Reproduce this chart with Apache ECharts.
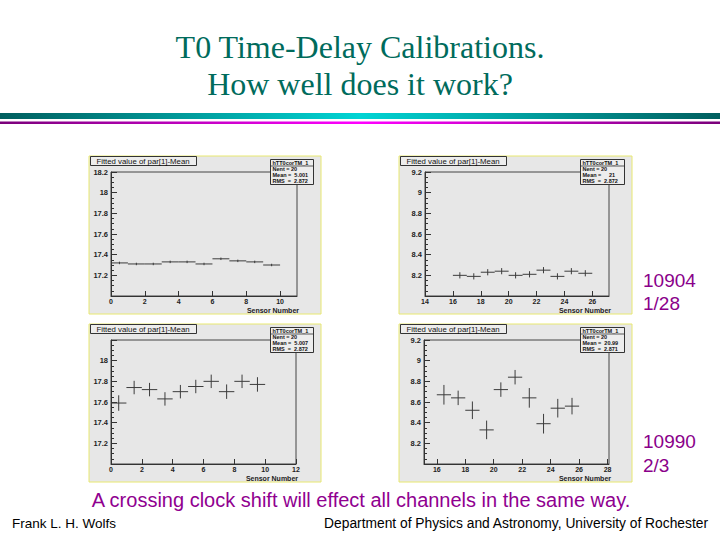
<!DOCTYPE html>
<html><head><meta charset="utf-8">
<script src="https://cdn.jsdelivr.net/npm/echarts@6/dist/echarts.min.js"></script>
<style>html,body{margin:0;padding:0;background:#fff}#c{width:720px;height:540px}</style>
</head><body><div id="c"></div>
<script>
// ---- data ----
const sensorsLow  = [0.5, 1.5, 2.5, 3.5, 4.5, 5.5, 6.5, 7.5, 8.5, 9.5];
const sensorsHigh = [16.5, 17.5, 18.5, 19.5, 20.5, 21.5, 22.5, 23.5, 24.5, 25.5];
const binWidth = 1;

const run10904LowMean  = [17.32, 17.31, 17.31, 17.33, 17.33, 17.31, 17.36, 17.34, 17.33, 17.30];
const run10904LowErr   = [0.012, 0.012, 0.012, 0.012, 0.012, 0.012, 0.012, 0.012, 0.012, 0.012];
const run10904HighMean = [8.20, 8.19, 8.23, 8.24, 8.20, 8.21, 8.25, 8.19, 8.24, 8.22];
const run10904HighErr  = [0.03, 0.03, 0.03, 0.03, 0.03, 0.03, 0.03, 0.03, 0.03, 0.03];
const run10990LowMean  = [17.59, 17.74, 17.72, 17.63, 17.70, 17.75, 17.80, 17.70, 17.80, 17.77];
const run10990LowErr   = [0.075, 0.065, 0.065, 0.065, 0.065, 0.065, 0.065, 0.07, 0.065, 0.07];
const run10990HighMean = [8.67, 8.64, 8.52, 8.33, 8.72, 8.84, 8.64, 8.39, 8.54, 8.56];
const run10990HighErr  = [0.095, 0.07, 0.085, 0.09, 0.07, 0.07, 0.095, 0.095, 0.09, 0.08];

const xTicksP1 = [0, 2, 4, 6, 8, 10];
const xTicksP2 = [14, 16, 18, 20, 22, 24, 26];
const xTicksP3 = [0, 2, 4, 6, 8, 10, 12];
const xTicksP4 = [16, 18, 20, 22, 24, 26, 28];
const yLabelsP1 = [17.2, 17.4, 17.6, 17.8, 18.0, 18.2];
const yLabelsP2 = [8.2, 8.4, 8.6, 8.8, 9.0, 9.2];
const yLabelsP3 = [17.2, 17.4, 17.6, 17.8, 18.0];
const yLabelsP4 = [8.2, 8.4, 8.6, 8.8, 9.0, 9.2];

const statsP1 = ['hTT0corTM_1', 'Nent = 20', 'Mean =  5.001', 'RMS  =  2.872'];
const statsP2 = ['hTT0corTM_1', 'Nent = 20', 'Mean =     21', 'RMS  =  2.872'];
const statsP3 = ['hTT0corTM_1', 'Nent = 20', 'Mean =  5.007', 'RMS  =  2.872'];
const statsP4 = ['hTT0corTM_1', 'Nent = 20', 'Mean =  20.99', 'RMS  =  2.871'];

const histTitle = 'Fitted value of par[1]-Mean';
const xName = 'Sensor Number';

// ---- layout ----
const panels = [
  {cx: 89,  cy: 156, cw: 232, ch: 158, grid: {left: 111, top: 172, width: 186, height: 124},
   xMin: 0, xMax: 11, xTicks: xTicksP1, yMin: 17.0, yMax: 18.2, yLabels: yLabelsP1,
   xs: sensorsLow, ys: run10904LowMean, es: run10904LowErr, stats: statsP1},
  {cx: 399, cy: 156, cw: 233, ch: 158, grid: {left: 425, top: 172, width: 184, height: 124},
   xMin: 14, xMax: 27.2, xTicks: xTicksP2, yMin: 8.0, yMax: 9.2, yLabels: yLabelsP2,
   xs: sensorsHigh, ys: run10904HighMean, es: run10904HighErr, stats: statsP2},
  {cx: 89,  cy: 324, cw: 232, ch: 158, grid: {left: 111, top: 340, width: 185, height: 124},
   xMin: 0, xMax: 12, xTicks: xTicksP3, yMin: 17.0, yMax: 18.2, yLabels: yLabelsP3,
   xs: sensorsLow, ys: run10990LowMean, es: run10990LowErr, stats: statsP3},
  {cx: 399, cy: 324, cw: 233, ch: 158, grid: {left: 424, top: 340, width: 185, height: 124},
   xMin: 15.1, xMax: 28.1, xTicks: xTicksP4, yMin: 8.0, yMax: 9.2, yLabels: yLabelsP4,
   xs: sensorsHigh, ys: run10990HighMean, es: run10990HighErr, stats: statsP4}
];

const SANS = '"Liberation Sans", Arial, Helvetica, sans-serif';
const SERIF = '"Liberation Serif", "Times New Roman", serif';
const axisColor = '#333';

function crossRender(params, api) {
  const x = api.value(0), y = api.value(1), e = api.value(2);
  const l = api.coord([x - binWidth / 2, y]);
  const r = api.coord([x + binWidth / 2, y]);
  const t = api.coord([x, y + e]);
  const b = api.coord([x, y - e]);
  return {type: 'group', children: [
    {type: 'line', shape: {x1: l[0], y1: l[1], x2: r[0], y2: r[1]}, style: {stroke: '#3c3c3c', lineWidth: 1}},
    {type: 'line', shape: {x1: t[0], y1: t[1], x2: b[0], y2: b[1]}, style: {stroke: '#3c3c3c', lineWidth: 1}}
  ]};
}

const grids = [], xAxes = [], yAxes = [], series = [], gfx = [];

panels.forEach((p, i) => {
  grids.push(Object.assign({show: true, borderColor: '#444', borderWidth: 1, backgroundColor: 'transparent'}, p.grid));
  xAxes.push({
    type: 'value', gridIndex: i, min: p.xMin, max: p.xMax,
    axisLine: {show: true, onZero: false, lineStyle: {color: axisColor, width: 1}},
    axisTick: {show: true, inside: true, length: 5, customValues: p.xTicks, lineStyle: {color: axisColor}},
    axisLabel: {customValues: p.xTicks, fontSize: 7, fontWeight: 'bold', color: '#222', margin: 2, fontFamily: SANS},
    splitLine: {show: false}
  });
  yAxes.push({
    type: 'value', gridIndex: i, min: p.yMin, max: p.yMax, interval: 0.2,
    axisLine: {show: true, onZero: false, lineStyle: {color: axisColor, width: 1}},
    axisTick: {show: true, inside: true, length: 6, lineStyle: {color: axisColor}},
    minorTick: {show: true, splitNumber: 4, length: 3, lineStyle: {color: axisColor}},
    axisLabel: {fontSize: 7.5, fontWeight: 'bold', color: '#222', margin: 3, fontFamily: SANS,
      showMinLabel: true, showMaxLabel: true,
      formatter: v => p.yLabels.some(l => Math.abs(l - v) < 1e-6) ? String(+v.toFixed(1)) : ''},
    splitLine: {show: false}
  });
  series.push({
    type: 'custom', xAxisIndex: i, yAxisIndex: i, renderItem: crossRender,
    data: p.xs.map((x, k) => [x, p.ys[k], p.es[k]]), silent: true, z: 5
  });
  // canvas background
  gfx.push({type: 'rect', z: -100, shape: {x: p.cx, y: p.cy, width: p.cw, height: p.ch},
    style: {fill: '#e7e7e7', stroke: '#e8e870', lineWidth: 1}});
  // x-axis title, right-aligned at the frame end
  gfx.push({type: 'text', z: 60, x: p.grid.left + p.grid.width + 2, y: p.grid.top + p.grid.height + 14,
    style: {text: xName, fill: '#222', font: 'bold 7px ' + SANS, textAlign: 'right', align: 'right',
            textVerticalAlign: 'middle', verticalAlign: 'middle'}});
  // title box
  gfx.push({type: 'rect', z: 100, shape: {x: p.cx + 1.5, y: p.cy + 0.5, width: 106, height: 9},
    style: {fill: '#ededed', stroke: '#333', lineWidth: 1}});
  gfx.push({type: 'text', z: 101, x: p.cx + 54, y: p.cy + 5.2,
    style: {text: histTitle, fill: '#111', font: '7.8px ' + SANS, textAlign: 'center', align: 'center',
            textVerticalAlign: 'middle', verticalAlign: 'middle'}});
  // stat box
  const sx = p.cx + 181.5, sy = p.cy + 3.5, sw = p.cw - 189, sh = 25;
  gfx.push({type: 'rect', z: 100, shape: {x: sx, y: sy, width: sw, height: sh},
    style: {fill: '#ededed', stroke: '#333', lineWidth: 1}});
  gfx.push({type: 'line', z: 101, shape: {x1: sx, y1: sy + 6.5, x2: sx + sw, y2: sy + 6.5},
    style: {stroke: '#333', lineWidth: 0.8}});
  p.stats.forEach((s, k) => {
    gfx.push({type: 'text', z: 102, x: sx + 2, y: sy + 3.3 + k * 6,
      style: {text: s, fill: '#111', font: 'bold 5.5px ' + SANS, textAlign: 'left', align: 'left',
              textVerticalAlign: 'middle', verticalAlign: 'middle'}});
  });
});

// slide decorations and text
const txt = (text, x, y, font, fill, align) => ({type: 'text', z: 50, x, y,
  style: {text, fill, font, textAlign: align, align, textVerticalAlign: 'middle', verticalAlign: 'middle'}});

gfx.push(txt('T0 Time-Delay Calibrations.', 360, 47, '32px ' + SERIF, '#006b5c', 'center'));
gfx.push(txt('How well does it work?', 360, 84, '32px ' + SERIF, '#006b5c', 'center'));
gfx.push({type: 'rect', z: 50, shape: {x: 0, y: 113, width: 720, height: 6},
  style: {fill: new echarts.graphic.LinearGradient(0, 0, 1, 0, [
    {offset: 0, color: '#005e5e'}, {offset: 0.5, color: '#00d4d4'}, {offset: 1, color: '#005e5e'}])}});
gfx.push({type: 'rect', z: 50, shape: {x: 0, y: 121.5, width: 720, height: 2.5},
  style: {fill: new echarts.graphic.LinearGradient(0, 0, 1, 0, [
    {offset: 0, color: '#7a007a'}, {offset: 0.5, color: '#ff00ff'}, {offset: 1, color: '#7a007a'}])}});

const purple = '#8a008a';
gfx.push(txt('10904', 643, 280, '19px ' + SANS, purple, 'left'));
gfx.push(txt('1/28', 643, 303, '19px ' + SANS, purple, 'left'));
gfx.push(txt('10990', 643, 441, '19px ' + SANS, purple, 'left'));
gfx.push(txt('2/3', 643, 465, '19px ' + SANS, purple, 'left'));
gfx.push(txt('A crossing clock shift will effect all channels in the same way.', 361, 500, '20px ' + SANS, '#900090', 'center'));
gfx.push(txt('Frank L. H. Wolfs', 12, 523, '13.5px ' + SANS, '#000', 'left'));
gfx.push(txt('Department of Physics and Astronomy, University of Rochester', 708, 523, '13.8px ' + SANS, '#000', 'right'));

const chart = echarts.init(document.getElementById('c'), null, {renderer: 'svg', width: 720, height: 540});
chart.setOption({
  animation: false,
  backgroundColor: '#ffffff',
  grid: grids, xAxis: xAxes, yAxis: yAxes, series: series,
  graphic: {elements: gfx}
});
</script></body></html>
